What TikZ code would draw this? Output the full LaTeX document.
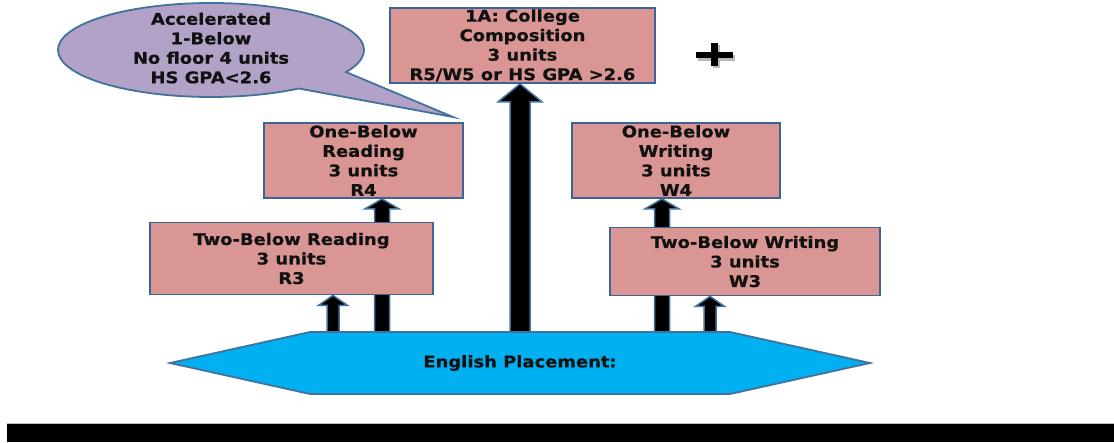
\documentclass[tikz,border=0pt]{standalone}
\usepackage{fontspec}
\setmainfont{DejaVu Sans}[FakeStretch=1.12, BoldFeatures={FakeBold=0.6}]
\usetikzlibrary{calc}
\pgfdeclarelayer{bg}
\pgfsetlayers{bg,main}
\definecolor{boxfill}{HTML}{D99694}
\definecolor{boxline}{HTML}{3C6494}
\definecolor{hexfill}{HTML}{00B0F0}
\definecolor{ovalfill}{HTML}{B3A2C7}
\definecolor{arrline}{HTML}{41719C}
\definecolor{txt}{HTML}{111111}
\tikzset{
  lbl/.style={font=\fontsize{16}{19.5}\selectfont\bfseries, align=center, text=txt, inner sep=0pt},
  box/.style={lbl, rectangle, draw=boxline, line width=1.8pt, fill=boxfill},
  arrowbody/.style={fill=black, draw=arrline, line width=1.5pt, line join=miter},
  hexst/.style={fill=hexfill, draw=arrline, line width=1.8pt, line join=miter},
  ovalst/.style={fill=ovalfill, draw=arrline, line width=1.8pt, line join=miter},
}
% #1 x, #2 bottom coordinate, #3 top anchor, #4 half shaft, #5 half head, #6 head length
\newcommand\blockarrow[6]{%
  \path (#1,0 |- #3) coordinate (at) (#1,0 |- #2) coordinate (ab);
  \draw[arrowbody] ($(ab)+(-#4,0)$) -- ($(at)+(-#4,#6)$) -- ($(at)+(-#5,#6)$) -- (at)
    -- ($(at)+(#5,#6)$) -- ($(at)+(#4,#6)$) -- ($(ab)+(#4,0)$) -- cycle;
}
\begin{document}
\begin{tikzpicture}[x=1pt,y=-1pt]
\useasboundingbox (0,0) rectangle (1114,442);

% callout
\coordinate (calltip) at (453,117);
\draw[ovalst] ($(211,50)+(28:153 and 47)$) arc[start angle=28, end angle=-305, x radius=153, y radius=47] -- (calltip) -- cycle;
\node[lbl] (callout) at (211,48) {Accelerated\\1-Below\\No floor 4 units\\HS GPA<2.6};

% boxes
\node[box, minimum width=265pt, minimum height=75pt] (comp) at (522.5,45.5) {1A: College\\Composition\\3 units\\R5/W5 or HS GPA >2.6};
\node[box, minimum width=199pt, minimum height=75pt] (obr) at (363.5,160.5) {One-Below\\Reading\\3 units\\R4};
\node[box, minimum width=283pt, minimum height=72pt] (tbr) at (291.5,258.5) {Two-Below Reading\\3 units\\R3};
\node[box, minimum width=208pt, minimum height=75pt] (obw) at (676,160.5) {One-Below\\Writing\\3 units\\W4};
\node[box, minimum width=270pt, minimum height=68pt] (tbw) at (745,261.5) {Two-Below Writing\\3 units\\W3};

% arrows (behind boxes)
\coordinate (hextop) at (520,332);
\begin{pgfonlayer}{bg}
\blockarrow{520}{hextop}{comp.south}{10}{22}{18}
\blockarrow{333}{hextop}{tbr.south}{6}{14.5}{10}
\blockarrow{382}{hextop}{obr.south}{7.5}{17}{10}
\blockarrow{662}{hextop}{obw.south}{7.5}{17}{10}
\blockarrow{710}{hextop}{tbw.south}{6}{14.5}{10}
\end{pgfonlayer}

% placement hexagon
\draw[hexst] (170,363) -- (310,332) -- (730,332) -- (870,363) -- (730,394) -- (310,394) -- cycle;
\node[lbl] (hex) at (520,363) {English Placement:};

% plus sign
\fill[gray!55] (698,54.5) rectangle (735,60.5);
\fill[gray!55] (713,45) rectangle (720,68);
\fill[black] (696,52) rectangle (733,58);
\fill[black] (711,43) rectangle (718,66);

% bottom bar
\draw[gray!50, line width=1pt] (7,423.5) -- (1114,423.5);
\fill[black] (7,424) rectangle (1114,442);
\end{tikzpicture}
\end{document}
